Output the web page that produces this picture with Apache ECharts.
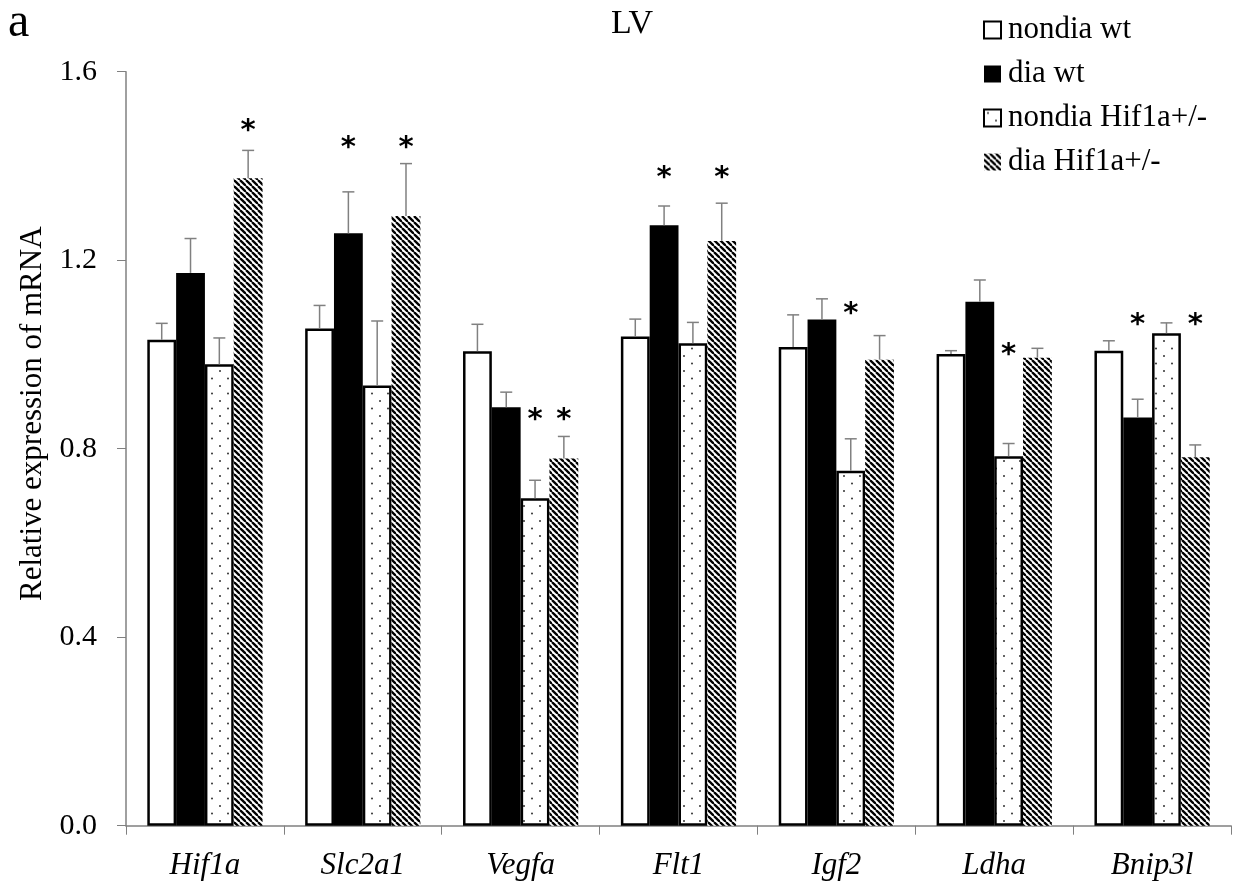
<!DOCTYPE html>
<html>
<head>
<meta charset="utf-8">
<script src="https://cdn.jsdelivr.net/npm/echarts@6/dist/echarts.min.js"></script>
<style>html,body{margin:0;padding:0;background:#fff}#c{width:1236px;height:885px}</style>
</head>
<body>
<div id="c"></div>
<script>
// ---- data ----
const categories = ['Hif1a', 'Slc2a1', 'Vegfa', 'Flt1', 'Igf2', 'Ldha', 'Bnip3l'];
const seriesNames = ['nondia wt', 'dia wt', 'nondia Hif1a+/-', 'dia Hif1a+/-'];
const nondiaWt    = [1.031, 1.055, 1.007, 1.038, 1.016, 1.001, 1.008];
const nondiaWtErr = [0.035, 0.049, 0.057, 0.037, 0.068, 0.007, 0.021];
const diaWt       = [1.173, 1.257, 0.888, 1.274, 1.074, 1.112, 0.866];
const diaWtErr    = [0.073, 0.088, 0.032, 0.041, 0.044, 0.046, 0.039];
const nondiaHet    = [0.979, 0.934, 0.695, 1.024, 0.753, 0.784, 1.045];
const nondiaHetErr = [0.056, 0.137, 0.038, 0.044, 0.068, 0.027, 0.022];
const diaHet       = [1.374, 1.294, 0.779, 1.241, 0.989, 0.993, 0.782];
const diaHetErr    = [0.059, 0.111, 0.047, 0.080, 0.051, 0.020, 0.026];
// height (in axis units) at which a significance star is drawn; null = no star
const starNondiaWt  = [null, null, null, null, null, null, null];
const starDiaWt     = [null, 1.448, null, 1.385, null, null, 1.073];
const starNondiaHet = [null, null, 0.871, null, 1.096, 1.009, null];
const starDiaHet    = [1.483, 1.448, 0.871, 1.385, null, null, 1.073];
const yTicks = [0, 0.4, 0.8, 1.2, 1.6];

const means = [nondiaWt, diaWt, nondiaHet, diaHet];
const errs = [nondiaWtErr, diaWtErr, nondiaHetErr, diaHetErr];
const stars = [starNondiaWt, starDiaWt, starNondiaHet, starDiaHet];

// ---- patterns ----
function dotPattern() {
  const c = document.createElement('canvas');
  c.width = 16; c.height = 15;
  const g = c.getContext('2d');
  g.fillStyle = '#fff'; g.fillRect(0, 0, 16, 15);
  g.fillStyle = '#333';
  g.beginPath(); g.arc(4, 3.5, 1.0, 0, Math.PI * 2); g.fill();
  g.beginPath(); g.arc(12, 11, 1.0, 0, Math.PI * 2); g.fill();
  return c;
}
function stripePattern() {
  const s = 6;
  const c = document.createElement('canvas');
  c.width = s; c.height = s;
  const g = c.getContext('2d');
  g.fillStyle = '#fff'; g.fillRect(0, 0, s, s);
  g.strokeStyle = '#000'; g.lineWidth = 2.3;
  for (let k = -1; k <= 1; k++) {
    g.beginPath(); g.moveTo(k * s, 0); g.lineTo(k * s + s, s); g.stroke();
  }
  return c;
}

const FONT = '"Liberation Serif", "Times New Roman", serif';
const GAP = 0.27;
const styles = [
  { color: '#fff', borderColor: '#000', borderWidth: 2.5 },
  { color: '#000', borderColor: '#000', borderWidth: 0 },
  { color: { image: dotPattern(), repeat: 'repeat' }, borderColor: '#000', borderWidth: 2.5 },
  { color: { image: stripePattern(), repeat: 'repeat' }, borderColor: '#000', borderWidth: 0 }
];

const barSeries = seriesNames.map((n, s) => ({
  name: n,
  type: 'bar',
  data: means[s],
  barGap: '0%',
  barCategoryGap: (GAP * 100) + '%',
  itemStyle: styles[s],
  z: 2
}));

const errData = [];
for (let s = 0; s < 4; s++) {
  for (let i = 0; i < categories.length; i++) {
    errData.push([i, means[s][i], errs[s][i], stars[s][i] == null ? -1 : stars[s][i], s]);
  }
}

const errSeries = {
  type: 'custom',
  name: 'err',
  z: 5,
  silent: true,
  encode: { x: 0, y: 1 },
  data: errData,
  renderItem: function (params, api) {
    const cat = api.value(0), v = api.value(1), e = api.value(2), st = api.value(3), s = api.value(4);
    const band = api.size([1, 0])[0];
    const groupW = band * (1 - GAP);
    const bw = groupW / 4;
    const cx = api.coord([cat, 0])[0] - groupW / 2 + bw * (s + 0.5);
    const y0 = api.coord([cat, v])[1];
    const y1 = api.coord([cat, v + e])[1];
    const lineStyle = { stroke: '#808080', lineWidth: 1.5 };
    const children = [
      { type: 'line', shape: { x1: cx, y1: y0, x2: cx, y2: y1 }, style: lineStyle },
      { type: 'line', shape: { x1: cx - 6, y1: y1, x2: cx + 6, y2: y1 }, style: lineStyle }
    ];
    if (st >= 0) {
      const ys = api.coord([cat, st])[1];
      children.push({
        type: 'text',
        x: cx, y: ys + 5,
        style: { text: '*', font: 'bold 29px "DejaVu Sans", sans-serif', fill: '#000', align: 'center', verticalAlign: 'middle' }
      });
    }
    return { type: 'group', children: children };
  }
};

const chart = echarts.init(document.getElementById('c'), null, { renderer: 'canvas' });
chart.setOption({
  animation: false,
  backgroundColor: '#fff',
  title: [
    { text: 'LV', left: 627, textAlign: 'center', top: 2, padding: 5, textStyle: { fontFamily: FONT, fontWeight: 'normal', fontSize: 34, color: '#000' } },
    { text: 'a', left: 3, top: -6, padding: 5, textStyle: { fontFamily: FONT, fontWeight: 'normal', fontSize: 48, color: '#000' } }
  ],
  legend: {
    orient: 'vertical',
    left: 978,
    top: 7,
    itemWidth: 17,
    itemHeight: 17,
    itemGap: 8,
    icon: 'rect',
    data: seriesNames,
    textStyle: { fontFamily: FONT, fontSize: 31, color: '#000', lineHeight: 36, padding: [0, 0, 0, 2] }
  },
  grid: { left: 126, right: 5, top: 71.7, bottom: 59.3, containLabel: false, outerBoundsMode: 'none' },
  xAxis: {
    type: 'category',
    data: categories,
    axisLine: { lineStyle: { color: '#808080', width: 1.5 } },
    axisTick: { show: true, length: 9, lineStyle: { color: '#808080' } },
    axisLabel: { fontFamily: FONT, fontStyle: 'italic', fontSize: 31, color: '#000', margin: 25 }
  },
  yAxis: {
    type: 'value',
    min: yTicks[0],
    max: yTicks[yTicks.length - 1],
    interval: yTicks[1] - yTicks[0],
    splitLine: { show: false },
    axisLine: { show: true, lineStyle: { color: '#808080', width: 1.5 } },
    axisTick: { show: true, length: 9, lineStyle: { color: '#808080' } },
    axisLabel: { fontFamily: FONT, fontSize: 30, color: '#000', margin: 29, formatter: v => v.toFixed(1) },
    name: 'Relative expression of mRNA',
    nameLocation: 'middle',
    nameGap: 77,
    nameRotate: 90,
    nameTextStyle: { fontFamily: FONT, fontSize: 31, color: '#000', padding: [0, 0, 0, 70] }
  },
  series: barSeries.concat([errSeries])
});
</script>
</body>
</html>
